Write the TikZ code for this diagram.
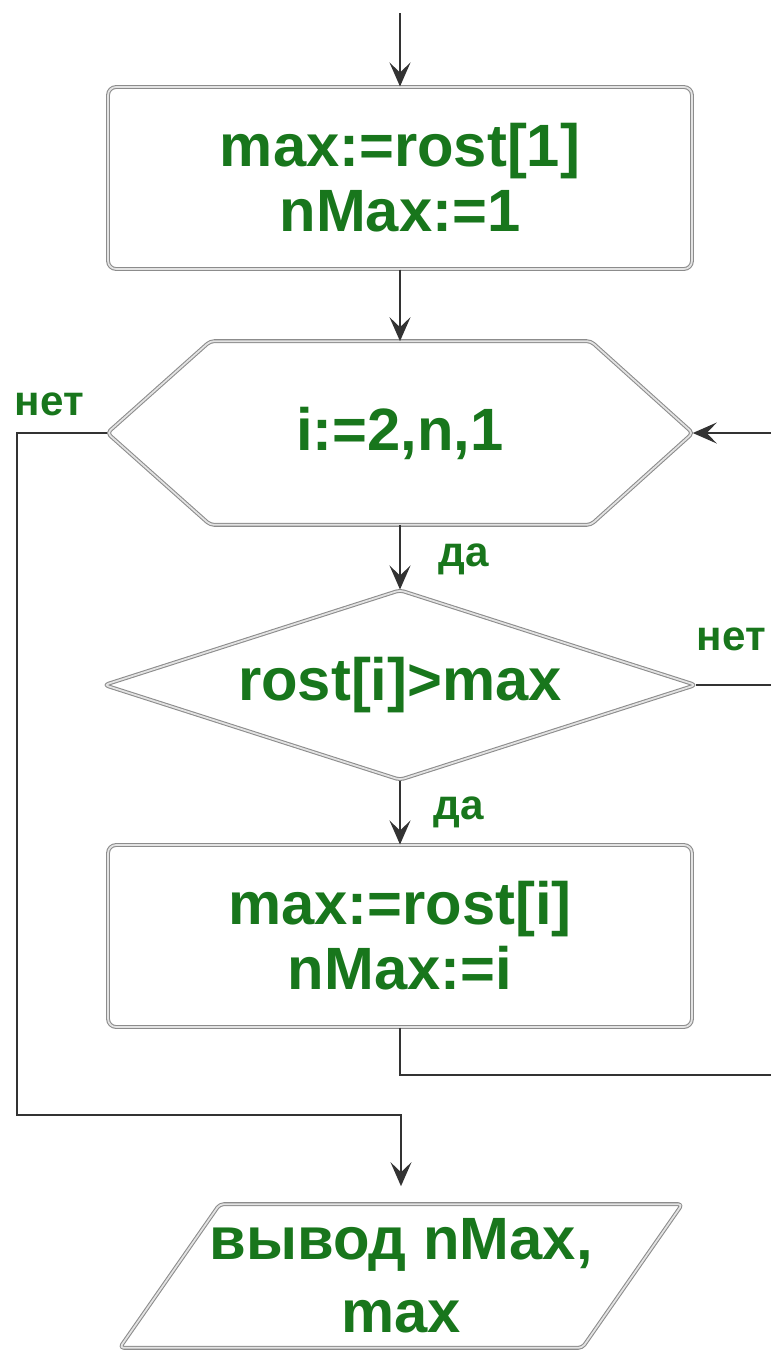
\documentclass[tikz,border=0pt]{standalone}
\usepackage{fontspec}
\setmainfont{Liberation Sans}
\usetikzlibrary{shapes.geometric,arrows.meta,calc}

\definecolor{textgreen}{RGB}{24,118,28}
\definecolor{linegray}{RGB}{51,51,51}
\definecolor{framegray}{RGB}{140,140,140}

\newcommand\bigtxt{\fontsize{34}{37}\selectfont\bfseries}
\newcommand\iotxt{\fontsize{34}{41.5}\selectfont\bfseries}
\newcommand\smalltxt{\fontsize{24}{26}\selectfont\bfseries}

\tikzset{
  frame/.style={draw=framegray, line width=0.6pt, double=gray!22, double distance=1pt,
    line join=round, rounded corners=0.08cm},
  procbox/.style={frame, rounded corners=0.16cm, minimum width=11.68cm,
    minimum height=3.64cm, align=center, font=\bigtxt, text=textgreen},
  hexbox/.style={minimum width=11.7cm, minimum height=3.66cm,
    font=\bigtxt, text=textgreen},
  decbox/.style={diamond, frame, aspect=3.1, minimum width=11.84cm, minimum height=3.8cm,
    inner sep=0pt, font=\bigtxt, text=textgreen},
  iobox/.style={minimum width=11.24cm, minimum height=2.86cm, align=center,
    font=\iotxt, text=textgreen},
  lbl/.style={font=\smalltxt, text=textgreen, inner sep=0pt},
  conn/.style={draw=linegray, line width=1pt},
  arr/.style={conn, -{Stealth[length=0.48cm,width=0.42cm,inset=0.2cm]}},
}

\begin{document}
\begin{tikzpicture}[x=0.02cm, y=-0.02cm]
  \useasboundingbox (0,0) rectangle (771,1350);

  \coordinate (start) at (400,13);
  \node[procbox] (init) at (400,178) {max:=rost[1]\\nMax:=1};
  \node[hexbox] (loop) at (400,433) {i:=2,n,1};
  \draw[frame] (loop.west) -- ($(loop.north west)+(103,0)$) -- ($(loop.north east)+(-102,0)$)
    -- (loop.east) -- ($(loop.south east)+(-102,0)$) -- ($(loop.south west)+(103,0)$) -- cycle;
  \node[decbox] (cond) at (400,685) {rost[i]>max};
  \node[procbox] (upd) at (400,936) {max:=rost[i]\\nMax:=i};
  \node[iobox] (out) at (401,1276) {вывод nMax,\\max};
  \draw[frame] ($(out.north west)+(100,0)$) -- (out.north east)
    -- ($(out.south east)+(-100,0)$) -- (out.south west) -- cycle;

  % loop ends, cut off at the right edge
  \coordinate (backin) at (771,433);
  \coordinate (noexit) at (771,685);
  \coordinate (backout) at (771,1075);
  \coordinate (leftc) at (17,1115);

  \draw[arr] (start) -- (init);
  \draw[arr] (init) -- (loop);
  \draw[arr] (loop.south) -- (cond.north) node[lbl, pos=0.54, right=0.76cm] {да};
  \draw[arr] (cond.south) -- (upd.north) node[lbl, pos=0.5, right=0.66cm] {да};
  \draw[conn] (cond.east) -- (noexit) node[lbl, pos=0.47, above=0.66cm] {нет};
  \draw[conn] (upd.south) |- (backout);
  \draw[arr] (backin) -- (loop.east);
  \draw[arr, shorten >=0.36cm] (loop.west) -| (leftc) node[lbl, pos=0.32, above=0.32cm] {нет}
    -| (out.north);
\end{tikzpicture}
\end{document}
